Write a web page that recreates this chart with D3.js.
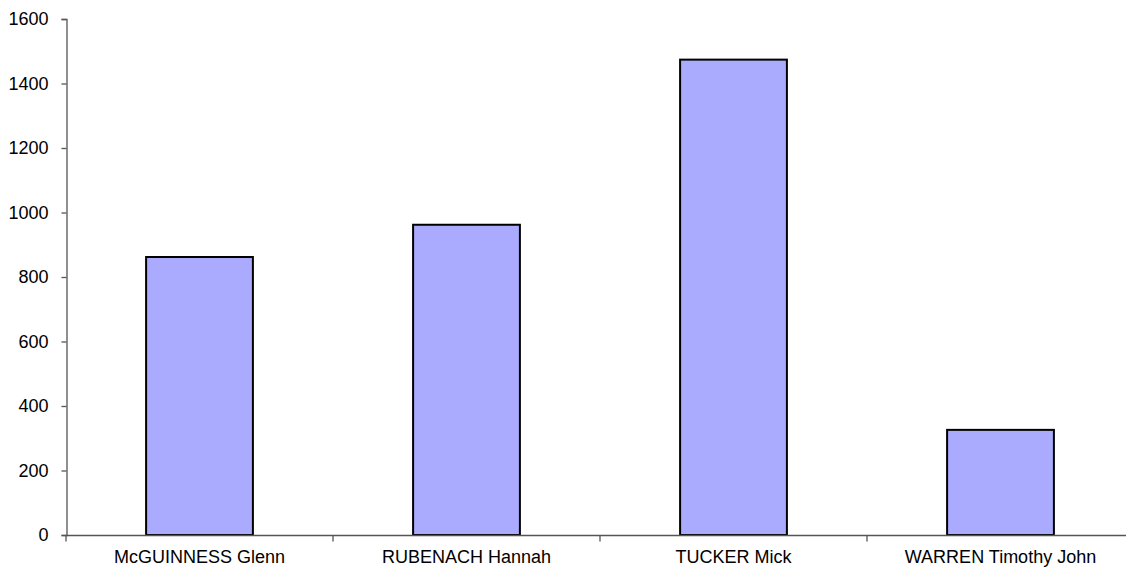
<!DOCTYPE html>
<html><head><meta charset="utf-8">
<script src="https://cdn.jsdelivr.net/npm/d3@7"></script>
<style>body{margin:0;background:#fff}svg{display:block}</style>
</head><body><svg id="c" width="1126" height="569"></svg>
<script>
const categories = ["McGUINNESS Glenn", "RUBENACH Hannah", "TUCKER Mick", "WARREN Timothy John"];
const values = [862, 962, 1474, 326];
const yTicks = [0, 200, 400, 600, 800, 1000, 1200, 1400, 1600];

const svg = d3.select("#c");
const font = "'Liberation Sans', Arial, sans-serif";
const x = d3.scaleBand().domain(categories).range([66, 1134]).padding(0);
const y = d3.scaleLinear().domain([0, 1600]).range([535, 19]);
const axisColor = "#555";

// bars
const bw = x.bandwidth() * 0.4;
svg.selectAll("rect.bar").data(values).enter().append("rect")
  .attr("x", (d, i) => x(categories[i]) + (x.bandwidth() - bw) / 2)
  .attr("y", d => y(d))
  .attr("width", bw)
  .attr("height", d => y(0) - y(d))
  .attr("fill", "#aaaaff")
  .attr("stroke", "#000")
  .attr("stroke-width", 2);

// y axis
const ya = svg.append("g").attr("transform", "translate(66.5,0)")
  .call(d3.axisLeft(y).tickValues(yTicks).tickSize(5).tickPadding(13).tickFormat(d3.format("d")));
ya.select(".domain").attr("stroke", axisColor).attr("stroke-width", 1.3);
ya.selectAll(".tick line").attr("stroke", axisColor).attr("stroke-width", 1.3);
ya.selectAll("text").attr("font-family", font).attr("font-size", 18).attr("fill", "#000");

// x axis
const xa = svg.append("g").attr("transform", "translate(0,535.5)");
xa.append("line").attr("x1", 66).attr("x2", 1126).attr("stroke", axisColor).attr("stroke-width", 1.3);
xa.selectAll("line.t").data(categories).enter().append("line")
  .attr("x1", d => x(d)).attr("x2", d => x(d)).attr("y1", 0).attr("y2", 6)
  .attr("stroke", axisColor).attr("stroke-width", 1.3);
xa.selectAll("text").data(categories).enter().append("text")
  .attr("x", d => x(d) + x.bandwidth() / 2).attr("y", 27)
  .attr("text-anchor", "middle").attr("font-family", font).attr("font-size", 18)
  .text(d => d);
</script></body></html>
